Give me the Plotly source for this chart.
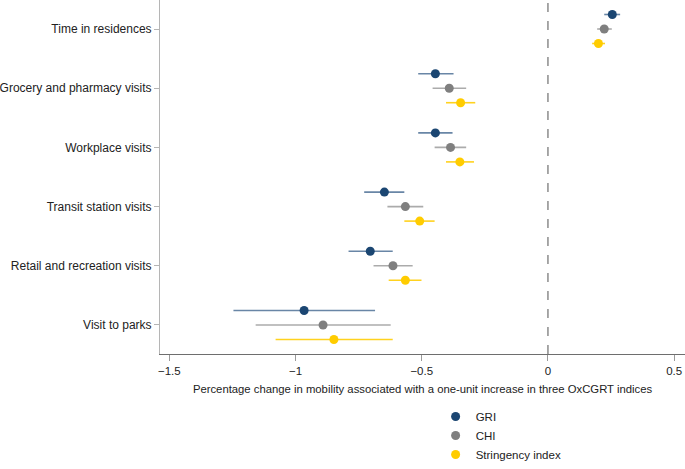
import plotly.graph_objects as go

# categories, top to bottom
categories = ["Time in residences", "Grocery and pharmacy visits", "Workplace visits",
              "Transit station visits", "Retail and recreation visits", "Visit to parks"]
series = ["GRI", "CHI", "Stringency index"]

# point estimates and 95% CI bounds
gri_est = [0.255, -0.446, -0.446, -0.648, -0.704, -0.966]
gri_lo = [0.223, -0.514, -0.514, -0.728, -0.790, -1.246]
gri_hi = [0.286, -0.374, -0.378, -0.569, -0.615, -0.685]

chi_est = [0.223, -0.391, -0.386, -0.565, -0.614, -0.891]
chi_lo = [0.195, -0.457, -0.449, -0.636, -0.691, -1.158]
chi_hi = [0.253, -0.324, -0.324, -0.494, -0.536, -0.623]

si_est = [0.200, -0.346, -0.349, -0.508, -0.565, -0.848]
si_lo = [0.175, -0.404, -0.404, -0.569, -0.631, -1.079]
si_hi = [0.226, -0.288, -0.293, -0.449, -0.501, -0.615]

x_ticks = [-1.5, -1, -0.5, 0, 0.5]
x_ticktext = ["\u22121.5", "\u22121", "\u22120.5", "0", "0.5"]

n = len(categories)
ypos = [n - 1 - i for i in range(n)]  # top category highest
offsets = [0.245, 0.0, -0.245]
marker_cols = ["#1b4672", "#7f7f7f", "#ffcc00"]
bar_cols = ["#6986a6", "#ababab", "#ffd21f"]

fig = go.Figure()
data = [(gri_est, gri_lo, gri_hi), (chi_est, chi_lo, chi_hi), (si_est, si_lo, si_hi)]
for k, (est, lo, hi) in enumerate(data):
    fig.add_trace(go.Scatter(
        x=est,
        y=[p + offsets[k] for p in ypos],
        mode="markers",
        name=series[k],
        marker=dict(color=marker_cols[k], size=9),
        error_x=dict(type="data", symmetric=False,
                     array=[h - e for h, e in zip(hi, est)],
                     arrayminus=[e - l for e, l in zip(est, lo)],
                     color=bar_cols[k], thickness=1.6, width=0),
        hoverinfo="x+name",
    ))

# dashed reference line at zero
fig.add_shape(type="line", x0=0, x1=0, y0=0, y1=1, xref="x", yref="paper",
              line=dict(color="#8c8c8c", width=1.5, dash="dash"), layer="below")

fig.update_layout(
    width=685, height=469,
    margin=dict(l=160, r=0, t=0, b=115),
    paper_bgcolor="white", plot_bgcolor="white",
    font=dict(family="Arial", size=11.5, color="#222222"),
    showlegend=True,
    legend=dict(orientation="v", x=0.525, xanchor="left", y=-0.325, yanchor="bottom",
                font=dict(size=11.5), itemwidth=30, tracegroupgap=0,
                bgcolor="rgba(0,0,0,0)"),
    xaxis=dict(range=[-1.537, 0.543], tickvals=x_ticks, ticktext=x_ticktext,
               showgrid=False, zeroline=False, showline=True, linecolor="#6e6e6e",
               linewidth=1, ticks="outside", ticklen=6, tickcolor="#9a9a9a",
               title=dict(text="Percentage change in mobility associated with a one-unit increase in three OxCGRT indices",
                          font=dict(size=11.3), standoff=9)),
    yaxis=dict(range=[-0.49, n - 1 + 0.49], tickvals=ypos, ticktext=categories,
               tickfont=dict(size=12),
               showgrid=False, zeroline=False, showline=True, linecolor="#b5b5b5",
               linewidth=1, ticks="outside", ticklen=5, tickcolor="#b5b5b5"),
)

fig.write_html("out.html", config={"displayModeBar": False},
               post_script="document.body.style.margin='0';")
